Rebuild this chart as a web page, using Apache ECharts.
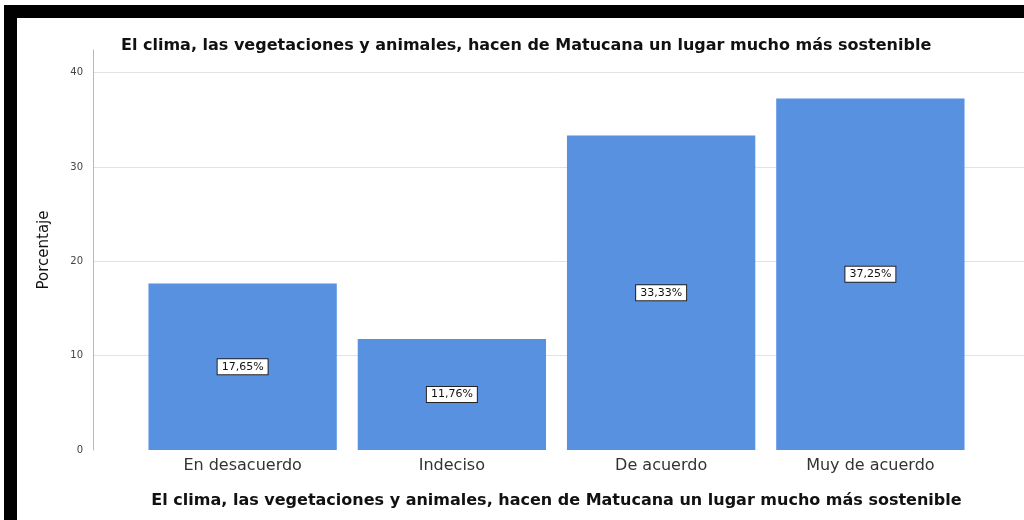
<!DOCTYPE html>
<html>
<head>
<meta charset="utf-8">
<script src="https://cdn.jsdelivr.net/npm/echarts@6/dist/echarts.min.js"></script>
<style>
  html, body { margin: 0; padding: 0; background: #fff; }
  #chart { width: 1024px; height: 520px; }
</style>
</head>
<body>
<div id="chart"></div>
<script>
var categories = ['En desacuerdo', 'Indeciso', 'De acuerdo', 'Muy de acuerdo'];
var percents = [17.65, 11.76, 33.33, 37.25];
var yTicks = [0, 10, 20, 30, 40];

var chartTitle = 'El clima, las vegetaciones y animales, hacen de Matucana un lugar mucho más sostenible';

var chart = echarts.init(document.getElementById('chart'));

chart.setOption({
  backgroundColor: '#fff',
  animation: false,
  textStyle: { fontFamily: 'DejaVu Sans, sans-serif' },
  title: {
    text: chartTitle,
    left: 116,
    top: 33,
    textStyle: { fontSize: 16, fontWeight: 'bold', color: '#111', fontFamily: 'DejaVu Sans' }
  },
  // black frame of the screenshot
  graphic: [
    { type: 'rect', shape: { x: 6, y: 5, width: 1030, height: 13 }, style: { fill: '#000' } },
    { type: 'rect', shape: { x: 4, y: 5, width: 13, height: 530 }, style: { fill: '#000' } }
  ],
  grid: [
    { left: 138, right: 49, top: 50, bottom: 70 },  // bars
    { left: 93, right: 0, top: 50, bottom: 70 }     // gridlines + y axis
  ],
  xAxis: [
    {
      gridIndex: 0,
      type: 'category',
      data: categories,
      axisLine: { show: false },
      axisTick: { show: false },
      axisLabel: { fontSize: 16, color: '#333', margin: 8 },
      name: chartTitle,
      nameLocation: 'middle',
      nameGap: 43,
      nameTextStyle: { fontSize: 16, fontWeight: 'bold', color: '#111' }
    },
    { gridIndex: 1, type: 'value', show: false }
  ],
  yAxis: [
    { gridIndex: 0, type: 'value', min: 0, max: 42.4, interval: 10, show: false },
    {
      gridIndex: 1,
      type: 'value',
      min: 0,
      max: 42.4,
      interval: 10,
      name: 'Porcentaje',
      nameLocation: 'middle',
      nameGap: 41,
      nameTextStyle: { fontSize: 15, color: '#111' },
      axisLine: { show: true, lineStyle: { color: '#b8b8b8', width: 1 } },
      axisTick: { show: false },
      axisLabel: {
        fontSize: 10,
        color: '#444',
        margin: 10,
        showMaxLabel: false,
        formatter: function (v) { return yTicks.indexOf(v) >= 0 ? v : ''; }
      },
      splitLine: { show: true, showMaxLine: false, showMinLine: false, lineStyle: { color: '#e2e2e2' } }
    }
  ],
  series: [
    {
      type: 'bar',
      xAxisIndex: 0,
      yAxisIndex: 0,
      data: percents,
      barCategoryGap: '10%',
      itemStyle: { color: '#5791e0' },
      label: {
        show: true,
        position: 'inside',
        fontSize: 11,
        color: '#111',
        backgroundColor: '#fff',
        borderColor: '#222',
        borderWidth: 1,
        padding: [2, 4],
        formatter: function (p) { return p.value.toFixed(2).replace('.', ',') + '%'; }
      }
    }
  ]
});
</script>
</body>
</html>
